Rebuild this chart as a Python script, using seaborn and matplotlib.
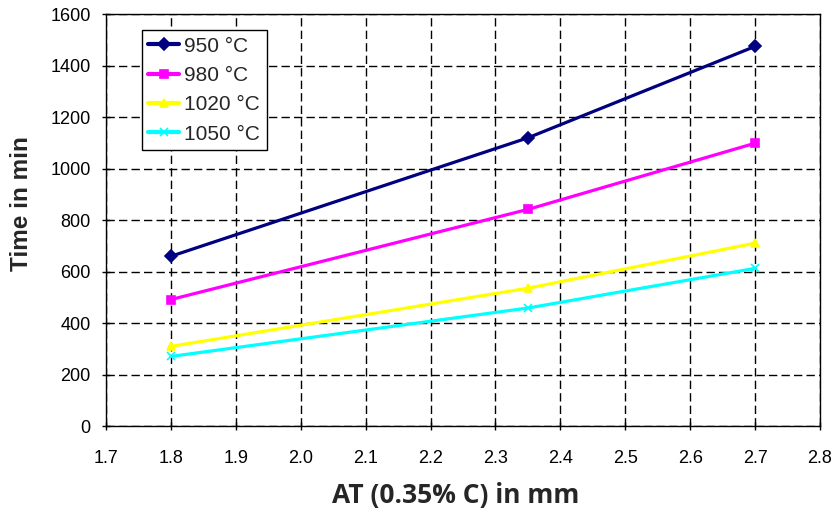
"""
Recreates the AT (0.35% C) vs. time chart with seaborn.
"""
import pandas as pd
import matplotlib
matplotlib.use('Agg')
import matplotlib.pyplot as plt
import seaborn as sns

# --- Data ---
AT_MM = [1.8, 2.35, 2.7]
TEMPS = ['950 °C', '980 °C', '1020 °C', '1050 °C']
TIME_950 = [660, 1120, 1475]
TIME_980 = [492, 842, 1099]
TIME_1020 = [310, 536, 711]
TIME_1050 = [271, 459, 613]

COLORS = ['#000080', '#FF00FF', '#FFFF00', '#00FFFF']
MARKERS = ['D', 's', '^', 'x']


def main():
    series = [TIME_950, TIME_980, TIME_1020, TIME_1050]

    sns.set_theme(style='white')
    plt.rcParams['font.family'] = ['Liberation Sans', 'DejaVu Sans']

    fig = plt.figure(figsize=(8.35, 5.08), dpi=100)
    ax = fig.add_axes([0.127, 0.161, 0.855, 0.811])

    # one call per series so filled and line-art markers can coexist
    for temp, vals, color, marker in zip(TEMPS, series, COLORS, MARKERS):
        df = pd.DataFrame({'AT': AT_MM, 'Time': vals})
        sns.lineplot(data=df, x='AT', y='Time', color=color, marker=marker,
                     markersize=6, markeredgewidth=1.2, markeredgecolor=color,
                     linewidth=2.3, label=temp, ax=ax, zorder=3)

    ax.set_xlim(1.7, 2.8)
    ax.set_ylim(0, 1600)
    ax.set_xticks([1.7 + 0.1 * i for i in range(12)])
    ax.set_xticklabels([f'{1.7 + 0.1 * i:.1f}' for i in range(12)])
    ax.set_yticks(range(0, 1601, 200))
    ax.tick_params(axis='both', labelsize=13, colors='black',
                   direction='inout', length=6, width=1,
                   bottom=True, left=True)
    ax.tick_params(axis='x', pad=14)
    ax.tick_params(axis='y', pad=8)

    ax.grid(True, color='black', linestyle=(0, (6, 3)), linewidth=1)
    ax.set_axisbelow(True)
    for spine in ax.spines.values():
        spine.set_color('black')
        spine.set_linewidth(1)

    ax.set_xlabel('AT (0.35% C) in mm', fontsize=19, fontweight='bold',
                  family=['Open Sans', 'DejaVu Sans'])
    ax.set_ylabel('Time in min', fontsize=17.5, fontweight='bold')
    ax.xaxis.set_label_coords(0.49, -0.135)
    ax.yaxis.set_label_coords(-0.102, 0.54)

    leg = ax.legend(loc='upper left', bbox_to_anchor=(0.05, 0.961),
                    borderaxespad=0, fontsize=15, frameon=True,
                    fancybox=False, edgecolor='black', framealpha=1,
                    handlelength=1.5, handletextpad=0.25,
                    labelspacing=0.5, borderpad=0.3)
    leg.get_frame().set_linewidth(1)
    for line in leg.get_lines():
        line.set_linewidth(3)

    fig.savefig('out.png', dpi=100, facecolor='white')


if __name__ == '__main__':
    main()
